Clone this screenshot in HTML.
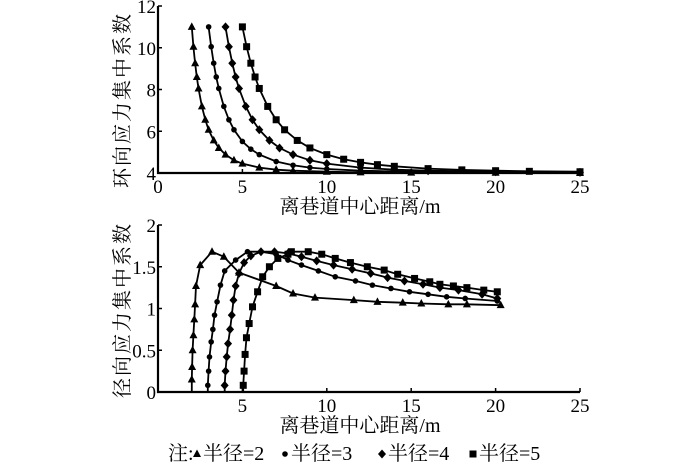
<!DOCTYPE html>
<html><head><meta charset="utf-8"><style>
html,body{margin:0;padding:0;background:#fff}
svg{display:block}
text{font-family:"Liberation Serif","Noto Serif CJK SC",serif;fill:#000}
</style></head><body>
<svg id="chart" width="700" height="469" viewBox="0 0 700 469" xmlns="http://www.w3.org/2000/svg"></svg>
<script>
// ---- data ----
const hoopX2=[2,2.1,2.2,2.3,2.4,2.6,2.8,3,3.3,3.6,4,4.5,5,6,7,8,10,12,15,20,25];
const hoopY2=[11,10.05,9.26,8.6,8.05,7.19,6.55,6.07,5.56,5.2,4.88,4.61,4.45,4.26,4.16,4.11,4.06,4.03,4.02,4.01,4];
const hoopX3=[3,3.15,3.3,3.45,3.6,3.9,4.2,4.5,5,5.5,6,7,8,9,10,12,15,20,25];
const hoopY3=[11,10.05,9.26,8.6,8.05,7.19,6.55,6.07,5.51,5.14,4.88,4.55,4.37,4.26,4.19,4.11,4.06,4.02,4.01];
const hoopX4=[4,4.2,4.4,4.6,4.8,5.2,5.6,6,6.6,7.2,8,9,10,12,14,16,20,25];
const hoopY4=[11,10.05,9.26,8.6,8.05,7.19,6.55,6.07,5.56,5.2,4.88,4.61,4.45,4.26,4.16,4.11,4.06,4.03];
const hoopX5=[5,5.25,5.5,5.75,6,6.5,7,7.5,8.25,9,10,11,12,13,14,16,18,20,22,25];
const hoopY5=[11,10.05,9.26,8.6,8.05,7.19,6.55,6.07,5.56,5.2,4.88,4.66,4.51,4.4,4.32,4.21,4.15,4.11,4.08,4.06];

const radX2=[2,2,2.02,2.05,2.1,2.15,2.2,2.25,2.5,3.2,3.9,4.8,7,8,9.3,11.6,13,14.5,15.6,17.2,18.3,20.3];
const radY2=[0,0.15,0.3,0.5,0.68,0.87,1.05,1.27,1.52,1.68,1.62,1.43,1.27,1.18,1.13,1.1,1.08,1.07,1.06,1.05,1.05,1.04];
const radX3=[2.95,2.95,3,3.05,3.15,3.25,3.35,3.5,3.7,3.95,4.6,5.3,6.1,7,7.7,8.5,9.5,10.5,11.7,12.7,13.8,14.9,16,17.1,18.2,20.1];
const radY3=[0,0.08,0.25,0.42,0.6,0.75,0.92,1.08,1.28,1.45,1.58,1.68,1.68,1.65,1.58,1.52,1.45,1.38,1.33,1.28,1.24,1.2,1.17,1.14,1.12,1.09];
const radX4=[3.95,3.95,4,4.07,4.15,4.27,4.37,4.47,4.6,4.8,5.1,5.5,6.1,6.9,7.7,8.5,9.4,10.4,11.5,12.6,13.6,14.6,15.7,16.7,17.8,19.2,20.1];
const radY4=[0,0.08,0.25,0.42,0.58,0.75,0.92,1.1,1.27,1.42,1.55,1.63,1.68,1.68,1.66,1.62,1.57,1.52,1.47,1.42,1.37,1.33,1.29,1.25,1.22,1.17,1.12];
const radX5=[5.05,5.05,5.1,5.16,5.24,5.4,5.6,5.9,6.2,6.6,7.1,7.7,7.9,8.9,9.7,10.5,11.4,12.4,13.4,14.2,15.2,16.1,16.7,17.5,18.3,19.3,20.1];
const radY5=[0,0.08,0.25,0.45,0.65,0.82,1.02,1.2,1.38,1.5,1.6,1.65,1.68,1.68,1.65,1.6,1.55,1.5,1.46,1.41,1.36,1.32,1.29,1.27,1.25,1.22,1.2];

const topXTicks=[0,5,10,15,20,25];
const topYTicks=[4,6,8,10,12];
const botXTicks=[5,10,15,20,25];
const botYTicks=[0,0.5,1,1.5,2];
const botYLabels=["0","0.5","1","1.5","2"];
const legendLabels=["半径=2","半径=3","半径=4","半径=5"];
const markerTypes=["tri","circ","dia","sq"];

// ---- drawing ----
const NS="http://www.w3.org/2000/svg";
const svg=document.getElementById('chart');
function mk(tag,attrs,parent){const e=document.createElementNS(NS,tag);for(const k in attrs)e.setAttribute(k,attrs[k]);(parent||svg).appendChild(e);return e;}
function txt(s,x,y,size,anchor,parent){const t=mk('text',{x:x,y:y,'font-size':size,'text-anchor':anchor||'middle'},parent);t.textContent=s;return t;}
function marker(type,x,y,g){
  if(type==='tri')return mk('polygon',{points:`${x},${y-4.5} ${x-4},${y+3} ${x+4},${y+3}`,fill:'#000'},g);
  if(type==='circ')return mk('circle',{cx:x,cy:y,r:2.8,fill:'#000'},g);
  if(type==='dia')return mk('polygon',{points:`${x},${y-4.5} ${x+4},${y} ${x},${y+4.5} ${x-4},${y}`,fill:'#000'},g);
  return mk('rect',{x:x-3.5,y:y-3.5,width:7,height:7,fill:'#000'},g);
}
function panel(name,L,R,T,B,xmin,xmax,ymin,ymax){
  const sx=v=>L+(v-xmin)/(xmax-xmin)*(R-L);
  const sy=v=>B-(v-ymin)/(ymax-ymin)*(B-T);
  const g=mk('g',{});
  
  
  return {sx,sy,g};
}
function drawSeries(p,xs,ys,type,name,skipFirst){
  const g=mk('g',{},p.g);
  
  
  const d=xs.map((x,i)=>(i?'L':'M')+p.sx(x).toFixed(1)+','+p.sy(ys[i]).toFixed(1)).join(' ');
  mk('path',{d:d,fill:'none',stroke:'#000','stroke-width':1.8},g);
  xs.forEach((x,i)=>{if(skipFirst&&i===0)return;marker(type,p.sx(x),p.sy(ys[i]),g);});
}
function axes(p,L,R,T,B,xt,xl,yt,yl,title,ytitle,ycy){
  const a=mk('g',{},p.g);
  
  
  mk('path',{d:`M${L},${T} L${L},${B} L${R},${B}`,fill:'none',stroke:'#000','stroke-width':2.2},a);
  xt.forEach((v,i)=>{const x=p.sx(v);mk('line',{x1:x,y1:B,x2:x,y2:B-4,stroke:'#000','stroke-width':1.5},a);
    const t=txt(xl[i],x,B+20,19,'middle',a);});
  yt.forEach((v,i)=>{const y=p.sy(v);mk('line',{x1:L,y1:y,x2:L+4,y2:y,stroke:'#000','stroke-width':1.5},a);
    const t=txt(yl[i],L-2,y+7,19,'end',a);});
  const xt2=txt(title,360,B+40,20,'middle',a);
  
  
  const yt2=mk('text',{x:0,y:0,'font-size':20,'text-anchor':'middle','letter-spacing':2,transform:`translate(129,${ycy}) rotate(-90)`},a);
  yt2.textContent=ytitle;
  
  
}
// top panel
const pT=panel('hoop-stress-panel',158,580,6,173,0,25,4,12);
axes(pT,158,580,6,173,topXTicks,topXTicks.map(String),topYTicks,topYTicks.map(String),'离巷道中心距离/m','环向应力集中系数',100);
drawSeries(pT,hoopX2,hoopY2,'tri','hoop-series-r2');
drawSeries(pT,hoopX3,hoopY3,'circ','hoop-series-r3');
drawSeries(pT,hoopX4,hoopY4,'dia','hoop-series-r4');
drawSeries(pT,hoopX5,hoopY5,'sq','hoop-series-r5');
// bottom panel
const pB=panel('radial-stress-panel',158,580,225,392,0,25,0,2);
axes(pB,158,580,225,392,botXTicks,botXTicks.map(String),botYTicks,botYLabels,'离巷道中心距离/m','径向应力集中系数',310);
drawSeries(pB,radX2,radY2,'tri','radial-series-r2',true);
drawSeries(pB,radX3,radY3,'circ','radial-series-r3',true);
drawSeries(pB,radX4,radY4,'dia','radial-series-r4',true);
drawSeries(pB,radX5,radY5,'sq','radial-series-r5',true);
// legend
const lg=mk('g',{});


txt('注:',168,460,20,'start',lg);
const lx=[197,285,382,473];
legendLabels.forEach((s,i)=>{
  const e=mk('g',{},lg);
  
  
  marker(markerTypes[i],lx[i],454,e);
  txt(s,lx[i]+6,460,20,'start',e);
});
</script>
</body></html>
